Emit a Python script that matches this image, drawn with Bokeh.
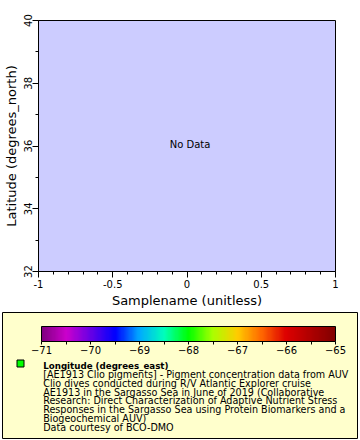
from bokeh.plotting import figure
from bokeh.models import (Range1d, FixedTicker, Label, ColorBar, LinearColorMapper)
from bokeh.layouts import column
from bokeh.embed import file_html
from bokeh.resources import INLINE
import numpy as np

# ---- chart values ----
x_limits = [-1, 1]
y_limits = [32, 40]
x_ticks = [-1, -0.5, 0, 0.5, 1]
x_tick_labels = ["-1", "-0.5", "0", "0.5", "1"]
x_minor = [-0.9, -0.8, -0.7, -0.6, -0.4, -0.3, -0.2, -0.1,
           0.1, 0.2, 0.3, 0.4, 0.6, 0.7, 0.8, 0.9]
y_ticks = [32, 34, 36, 38, 40]
y_minor = [33, 35, 37, 39]
cb_limits = [-71, -65]
cb_ticks = [-71, -70, -69, -68, -67, -66, -65]
cb_minor = [-70.5, -69.5, -68.5, -67.5, -66.5, -65.5]
x_title = "Samplename (unitless)"
y_title = "Latitude (degrees_north)"
legend_title = "Longitude (degrees_east)"
legend_lines = [
    "[AE1913 Clio pigments] - Pigment concentration data from AUV",
    "Clio dives conducted during R/V Atlantic Explorer cruise",
    "AE1913 in the Sargasso Sea in June of 2019 (Collaborative",
    "Research: Direct Characterization of Adaptive Nutrient Stress",
    "Responses in the Sargasso Sea using Protein Biomarkers and a",
    "Biogeochemical AUV)",
    "Data courtesy of BCO-DMO",
]

FONT = "DejaVu Sans"

# ---- main plot ----
p = figure(width=360, height=310, output_backend="svg", toolbar_location=None,
           x_range=Range1d(*x_limits), y_range=Range1d(*y_limits),
           min_border_left=37, min_border_right=25, min_border_top=20,
           min_border_bottom=37)
p.frame_align = False
p.background_fill_color = "#ccccff"
p.border_fill_color = "white"
p.outline_line_color = "black"
p.outline_line_width = 1
p.grid.visible = False

p.xaxis.ticker = FixedTicker(ticks=x_ticks, minor_ticks=x_minor)
p.xaxis.major_label_overrides = {t: l for t, l in zip(x_ticks, x_tick_labels)}
p.yaxis.ticker = FixedTicker(ticks=y_ticks, minor_ticks=y_minor)
p.yaxis.major_label_orientation = "vertical"
for ax in (p.xaxis, p.yaxis):
    ax.axis_label_text_font = FONT
    ax.axis_label_text_font_style = "normal"
    ax.axis_label_text_font_size = "13px"
    ax.axis_label_text_color = "black"
    ax.major_label_text_font = FONT
    ax.major_label_text_font_size = "10px"
    ax.major_label_text_color = "black"
    ax.major_tick_in = 0
    ax.major_tick_out = 6
    ax.minor_tick_in = 0
    ax.minor_tick_out = 3
    ax.axis_line_color = "black"
    ax.major_tick_line_color = "black"
    ax.minor_tick_line_color = "black"
p.xaxis.major_label_standoff = 2
p.xaxis.axis_label_standoff = 2
p.yaxis.major_label_standoff = 1
p.yaxis.axis_label_standoff = 2
p.xaxis.axis_label = x_title
p.yaxis.axis_label = y_title

p.add_layout(Label(x=0, y=36, x_offset=3, y_offset=2, text="No Data", text_font=FONT,
                   text_font_size="10px", text_align="center", text_baseline="middle",
                   text_color="black"))

# ---- legend panel ----
W, H = 355, 126
q = figure(width=360, height=130, output_backend="svg", toolbar_location=None,
           x_axis_type=None, y_axis_type=None,
           x_range=Range1d(0, W), y_range=Range1d(H, 0),
           min_border_left=2, min_border_right=3, min_border_top=2, min_border_bottom=2)
q.frame_align = False
q.background_fill_color = "#ffffcc"
q.border_fill_color = "white"
q.outline_line_color = "black"
q.grid.visible = False

anchors = [(0.0, "#800080"), (0.083, "#cc00cc"), (0.25, "#0000ff"), (0.333, "#00aaff"),
           (0.417, "#00ffbb"), (0.5, "#00ff00"), (0.583, "#aaff00"), (0.667, "#ffcc00"),
           (0.75, "#ff6600"), (0.833, "#dd0000"), (1.0, "#800000")]
pos = np.array([a[0] for a in anchors])
rgb = np.array([[int(c[1:3], 16), int(c[3:5], 16), int(c[5:7], 16)] for _, c in anchors])
t = np.linspace(0, 1, 256)
palette = ["#%02x%02x%02x" % tuple(int(round(np.interp(tt, pos, rgb[:, k]))) for k in range(3))
           for tt in t]
mapper = LinearColorMapper(palette=palette, low=cb_limits[0], high=cb_limits[1])
cb = ColorBar(color_mapper=mapper, orientation="horizontal", width=294, height=15,
              location=(39, 82), padding=0, margin=0,
              ticker=FixedTicker(ticks=cb_ticks, minor_ticks=cb_minor),
              major_tick_in=0, major_tick_out=3, minor_tick_in=0, minor_tick_out=3,
              major_tick_line_color="black", minor_tick_line_color="black",
              bar_line_color="black", label_standoff=1,
              major_label_text_font=FONT, major_label_text_font_size="10px",
              major_label_text_color="black",
              background_fill_alpha=0, border_line_color=None)
q.add_layout(cb)

q.scatter(x=[18], y=[51], marker="square", size=7, fill_color="#00ff00",
          line_color="black", line_width=1)
q.add_layout(Label(x=40.7, y=53, text=legend_title, text_font=FONT, text_font_style="bold",
                   text_font_size="8.7px", text_baseline="middle", text_color="black"))
for i, line in enumerate(legend_lines):
    q.add_layout(Label(x=40.7, y=62 + 8.75 * i, text=line, text_font=FONT,
                       text_font_size="9.6px", text_baseline="middle", text_color="black"))

layout = column(p, q, spacing=0)
open("out.html", "w").write(file_html(layout, INLINE))
